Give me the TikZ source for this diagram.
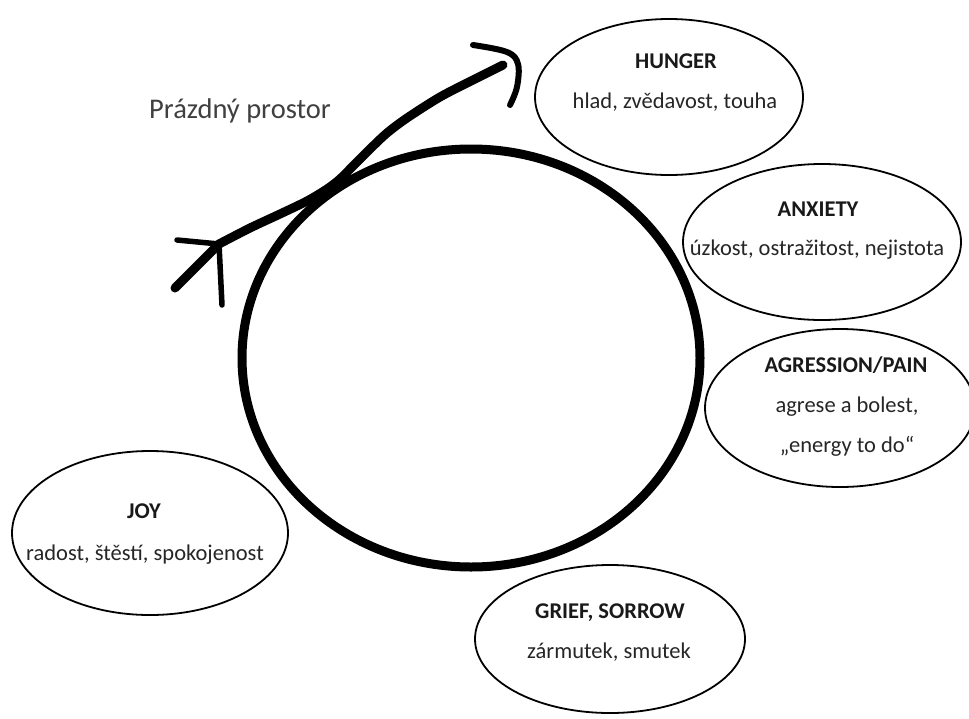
\documentclass[tikz,border=0pt]{standalone}
\usepackage{fontspec}
\setmainfont{Carlito}
\usetikzlibrary{shapes.geometric}
\begin{document}
\begin{tikzpicture}[x=1pt,y=-1pt,
  mood/.style={draw=black, line width=1.8pt, ellipse, inner sep=0pt, outer sep=0pt},
  self/.style={draw=black, line width=9pt, ellipse, inner sep=0pt, outer sep=0pt},
  head/.style={anchor=base, inner sep=0pt, text=black!90, font=\fontsize{22.5}{27}\selectfont\bfseries},
  body/.style={anchor=base, inner sep=0pt, text=black!85, font=\fontsize{22.5}{27}\selectfont},
  title/.style={anchor=base, inner sep=0pt, text=black!75, font=\fontsize{28.5}{34}\selectfont},
  shaft/.style={line width=9pt, line cap=round, line join=round},
  fletch/.style={line width=5.5pt, line cap=round, line join=round}]

% canvas
\useasboundingbox[fill=white] (0,0) rectangle (969,718);

% the self: one large ring
\node[self, minimum width=458pt, minimum height=418pt] (ring) at (471,358) {};

% emotion ellipses
\node[mood, minimum width=268pt, minimum height=156pt] (hunger)  at (669,97)  {};
\node[mood, minimum width=278pt, minimum height=156pt] (anxiety) at (822,242) {};
\node[mood, minimum width=270pt, minimum height=158pt] (aggr)    at (840,408) {};
\node[mood, minimum width=276pt, minimum height=164pt] (joy)     at (150,533) {};
\node[mood, minimum width=270pt, minimum height=148pt] (grief)   at (610,639) {};

% texts
\node[head] (hungerH) at (676,68)  {HUNGER};
\node[body] (hungerB) at (675,108) {hlad, zvědavost, touha};

\node[head] (anxH) at (818,216) {ANXIETY};
\node[body] (anxB) at (817,255) {úzkost, ostražitost, nejistota};

\node[head] (aggrH)  at (846,372) {AGRESSION/PAIN};
\node[body] (aggrB1) at (847,412) {agrese a bolest,};
\node[body] (aggrB2) at (847,452) {„energy to do“};

\node[head] (joyH) at (144,518) {JOY};
\node[body] (joyB) at (145,560) {radost, štěstí, spokojenost};

\node[head] (griefH) at (610,618) {GRIEF, SORROW};
\node[body] (griefB) at (609,658) {zármutek, smutek};

\node[title] (empty) at (240,118) {Prázdný prostor};

% the arrow through empty space
\coordinate (tail) at (175,288);
\coordinate (kink) at (219,244);
\draw[shaft] (tail) -- (kink);
\draw[shaft] plot[smooth, tension=0.5] coordinates {
  (kink) (250,228) (280,214) (307,201) (327,189) (340,179) (354,165)
  (370,149) (387,133) (407,118) (440,97) (473,80) (503,65)};

% arrow head
\coordinate (h0) at (473,45);
\coordinate (h1) at (507,52);
\coordinate (h2) at (518,64);
\coordinate (h3) at (517,87);
\coordinate (h4) at (510,105);
\draw[fletch, line width=6pt] plot[smooth, tension=0.6] coordinates {(h0) (h1) (h2) (h3) (h4)};

% fletching at the tail
\coordinate (f1) at (177,240);
\coordinate (f2) at (222,305);
\draw[fletch] (f1) -- (kink);
\draw[fletch] (kink) -- (f2);
\end{tikzpicture}
\end{document}
